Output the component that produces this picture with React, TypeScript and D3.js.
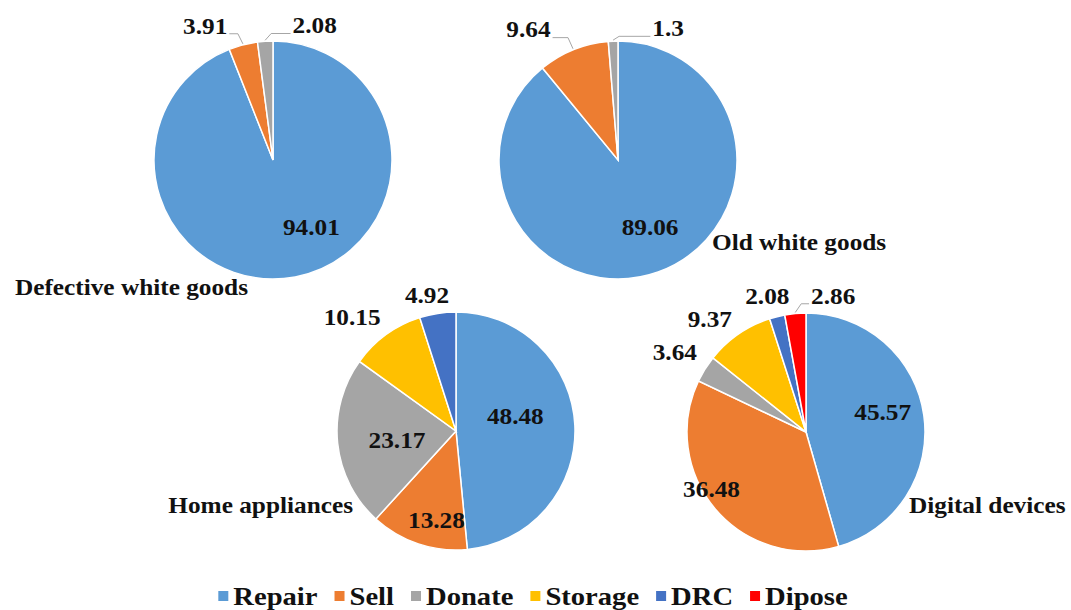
import * as d3 from "d3"

const categories = ["Repair", "Sell", "Donate", "Storage", "DRC", "Dipose"]
const colors = ["#5B9BD5", "#ED7D31", "#A5A5A5", "#FFC000", "#4472C4", "#FF0000"]

const defectiveWhiteGoods = [94.01, 3.91, 2.08]
const oldWhiteGoods = [89.06, 9.64, 1.3]
const homeAppliances = [48.48, 13.28, 23.17, 10.15, 4.92]
const digitalDevices = [45.57, 36.48, 3.64, 9.37, 2.08, 2.86]

const W = 1071
const H = 610
const R = 119
const SX = 1.1 // the source picture is a bit stretched horizontally
const FONT = "Liberation Serif"

// Times bold advance widths (per em) for the glyphs we use
const adv: Record<string, number> = {
  R: 0.722, e: 0.444, p: 0.556, a: 0.5, i: 0.278, r: 0.444, S: 0.556, l: 0.278,
  D: 0.722, o: 0.5, n: 0.556, t: 0.333, g: 0.5, C: 0.722, s: 0.389, ".": 0.25,
}
const textWidth = (s: string, size: number) =>
  s.split("").reduce((sum, ch) => sum + (adv[ch] ?? 0.5), 0) * size

interface PieSpec {
  title: string
  values: number[]
  cx: number
  cy: number
  titleDx: number
  titleDy: number
  titleAnchor: "start" | "end"
  nudge: [number, number][]
  leader: boolean[]
}

const pies: PieSpec[] = [
  {
    title: "Defective white goods", values: defectiveWhiteGoods, cx: 273, cy: 160,
    titleDx: -25, titleDy: 135, titleAnchor: "end",
    nudge: [[25, -3], [-32, 4], [51, 8]], leader: [false, true, true],
  },
  {
    title: "Old white goods", values: oldWhiteGoods, cx: 618, cy: 160,
    titleDx: 94, titleDy: 90, titleAnchor: "start",
    nudge: [[8, 0], [-36, 2], [56, 11]], leader: [false, true, true],
  },
  {
    title: "Home appliances", values: homeAppliances, cx: 456, cy: 431,
    titleDx: -103, titleDy: 82, titleAnchor: "end",
    nudge: [[-12, -11], [3, 21], [12, 2], [-20, 2], [-7, 5]], leader: [false, false, false, false, false],
  },
  {
    title: "Digital devices", values: digitalDevices, cx: 806, cy: 432,
    titleDx: 103, titleDy: 81, titleAnchor: "start",
    nudge: [[6, -10], [-40, 11], [-10, -4], [-15, 5], [-4, 3], [40, 6]], leader: [false, false, false, false, false, true],
  },
]

const pie = d3.pie<number>().sort(null).value((d) => d)
const arc = d3.arc<d3.PieArcDatum<number>>().innerRadius(0).outerRadius(R)
const line = d3.line()

function Pie({ p }: { p: PieSpec }) {
  const arcs = pie(p.values)
  return (
    <g transform={`translate(${p.cx},${p.cy})`}>
      {arcs.map((a, i) => (
        <path key={i} d={arc(a) ?? ""} fill={colors[i]} stroke="white" strokeWidth={1.5} />
      ))}
      {arcs.map((a, i) => {
        const mid = (a.startAngle + a.endAngle) / 2
        const dx = Math.sin(mid)
        const dy = -Math.cos(mid)
        const k = a.value > 12 ? 0.6 : 1.2
        const lx = dx * R * k + p.nudge[i][0]
        const ly = dy * R * k + p.nudge[i][1]
        const label = String(a.value)
        let leader = null
        if (p.leader[i]) {
          const w = textWidth(label, 23) * SX
          const ex = dx * (R + 1)
          const ey = dy * (R + 1)
          const yy = ly + 8
          const pts: [number, number][] =
            lx < ex
              ? [[lx + w / 2 + 2, yy], [ex - 5, yy], [ex, ey]]
              : [[lx - w / 2 - 2, yy], [ex + 6, yy], [ex, ey]]
          leader = <path d={line(pts) ?? ""} fill="none" stroke="#A6A6A6" strokeWidth={1} />
        }
        return (
          <g key={"l" + i}>
            {leader}
            <g transform={`translate(${lx},${ly}) scale(${SX},1)`}>
              <text textAnchor="middle" dy="0.34em" fontFamily={FONT} fontWeight="bold" fontSize={23} fill="#111">
                {label}
              </text>
            </g>
          </g>
        )
      })}
      <g transform={`translate(${p.titleDx},${p.titleDy}) scale(${SX},1)`}>
        <text textAnchor={p.titleAnchor} fontFamily={FONT} fontWeight="bold" fontSize={23} fill="#111">
          {p.title}
        </text>
      </g>
    </g>
  )
}

function Legend() {
  const sq = 10
  const gapText = 5
  const gapItem = 17
  const size = 26
  let x = 0
  const items = categories.map((c, i) => {
    const pos = x
    x += sq + gapText + textWidth(c, size) * SX + gapItem
    return { c, i, pos }
  })
  const total = x - gapItem
  return (
    <g transform={`translate(${533 - total / 2},596)`}>
      {items.map(({ c, i, pos }) => (
        <g key={c} transform={`translate(${pos},0)`}>
          <rect x={0} y={-sq / 2} width={sq} height={sq} fill={colors[i]} />
          <g transform={`translate(${sq + gapText},0) scale(${SX},1)`}>
            <text dy="0.34em" fontFamily={FONT} fontWeight="bold" fontSize={size} fill="#111">
              {c}
            </text>
          </g>
        </g>
      ))}
    </g>
  )
}

export default function App() {
  return (
    <svg width={W} height={H} style={{ position: "absolute", left: 0, top: 0, background: "white" }}>
      {pies.map((p) => (
        <Pie key={p.title} p={p} />
      ))}
      <Legend />
    </svg>
  )
}
